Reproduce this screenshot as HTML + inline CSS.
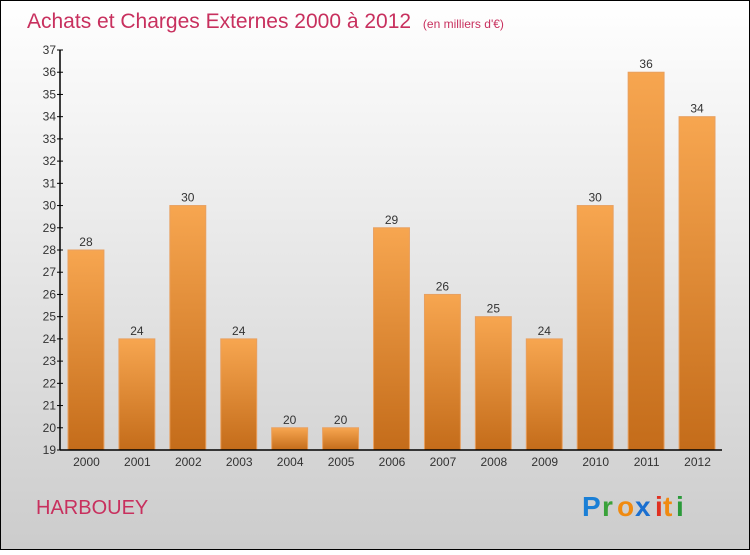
<!DOCTYPE html>
<html><head><meta charset="utf-8"><style>
body{margin:0}
svg text{font-family:"Liberation Sans",sans-serif}
</style></head><body>
<svg width="750" height="550" viewBox="0 0 750 550">
<defs>
<linearGradient id="bg" x1="0" y1="0" x2="0" y2="1"><stop offset="0" stop-color="#ffffff"/><stop offset="1" stop-color="#cccccc"/></linearGradient>
<linearGradient id="bar" x1="0" y1="0" x2="0" y2="1"><stop offset="0" stop-color="#f7a650"/><stop offset="1" stop-color="#c46c1a"/></linearGradient>
</defs>
<rect x="0.5" y="0.5" width="749" height="549" fill="url(#bg)" stroke="#000"/>
<text x="27" y="28" font-size="21" fill="#c8305e">Achats et Charges Externes 2000 à 2012 <tspan font-size="12" dx="6">(en milliers d'€)</tspan></text>
<g id="plot"></g>
<text x="36" y="514" font-size="20" fill="#c8305e">HARBOUEY</text>
<g font-size="28" font-weight="bold">
<text x="582" y="516" fill="#1a7fd6">P</text><text x="602" y="516" fill="#3aa23a">r</text><text x="617" y="516" fill="#f08a10">o</text><text x="635" y="516" fill="#1a6fd0">x</text><text x="655" y="516" fill="#e03020">i</text><text x="663" y="516" fill="#f08a10">t</text><text x="676" y="516" fill="#2a9a3a">i</text>
</g>
</svg>
<script>
const categories=["2000","2001","2002","2003","2004","2005","2006","2007","2008","2009","2010","2011","2012"];
const values=[28,24,30,24,20,20,29,26,25,24,30,36,34];
const yTicks=[19,20,21,22,23,24,25,26,27,28,29,30,31,32,33,34,35,36,37];
const NS="http://www.w3.org/2000/svg";
const g=document.getElementById('plot');
const x0=60,x1=722,yTop=50,yBot=450,yMin=19,yMax=37;
const band=(x1-x0)/categories.length;
const y=v=>yBot-(v-yMin)/(yMax-yMin)*(yBot-yTop);
function mk(t,a){const e=document.createElementNS(NS,t);for(const k in a)e.setAttribute(k,a[k]);g.appendChild(e);return e;}
values.forEach((v,i)=>{
 const bx=x0+i*band+8,bw=band-15;
 const r=mk('rect',{x:bx,y:y(v),width:bw,height:yBot-y(v),fill:'url(#bar)',stroke:'#e8a060','stroke-width':1});
 
 
 const t=mk('text',{x:bx+bw/2,y:y(v)-4,'font-size':12,fill:'#333','text-anchor':'middle'});
 t.textContent=v;
 
 
 const c=mk('text',{x:x0+i*band+band/2+1,y:466,'font-size':12,fill:'#333','text-anchor':'middle'});
 c.textContent=categories[i];
 
 
});
yTicks.forEach(v=>{
 const l=mk('line',{x1:x0-3,x2:x0+3,y1:y(v),y2:y(v),stroke:'#000'});
 
 
 const t=mk('text',{x:x0-4,y:y(v)+4,'font-size':12,fill:'#333','text-anchor':'end'});
 t.textContent=v;
 
 
});
const ya=mk('line',{x1:x0,x2:x0,y1:yTop,y2:yBot,stroke:'#000','stroke-width':1.5});


const xa=mk('line',{x1:x0,x2:x1,y1:yBot,y2:yBot,stroke:'#000','stroke-width':1.5});


</script>
</body></html>
